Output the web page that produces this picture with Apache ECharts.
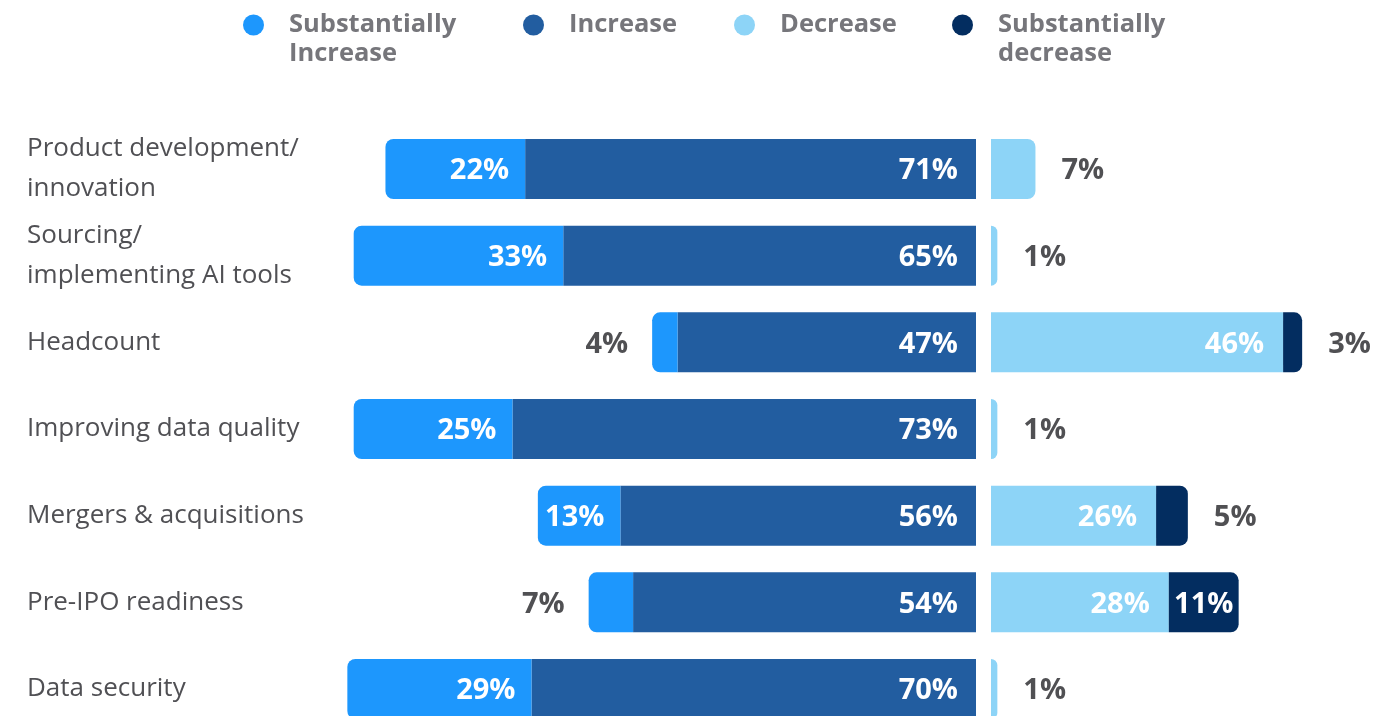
<!DOCTYPE html>
<html>
<head>
<meta charset="utf-8">
<script src="https://cdn.jsdelivr.net/npm/echarts@6/dist/echarts.min.js"></script>
<style>
  html, body { margin: 0; padding: 0; background: #ffffff; }
  #chart { width: 1400px; height: 716px; }
</style>
</head>
<body>
<div id="chart"></div>
<script>
// ---- data ----
const categories = [
  'Product development/\ninnovation',
  'Sourcing/\nimplementing AI tools',
  'Headcount',
  'Improving data quality',
  'Mergers & acquisitions',
  'Pre-IPO readiness',
  'Data security'
];
const subIncrease = [22, 33, 4, 25, 13, 7, 29];
const increase    = [71, 65, 47, 73, 56, 54, 70];
const decrease    = [7, 1, 46, 1, 26, 28, 1];
const subDecrease = [0, 0, 3, 0, 5, 11, 0];

const seriesNames = ['Substantially Increase', 'Increase', 'Decrease', 'Substantially decrease'];
const legendLines = [['Substantially', 'Increase'], ['Increase'], ['Decrease'], ['Substantially', 'decrease']];

// ---- styles ----
const COLORS = ['#1d97fd', '#225da0', '#8dd4f7', '#032d60'];
const FONT = '"Open Sans", "Noto Sans", sans-serif';
const LABEL_SIZE = 29;
const OUT_COLOR = '#505053';
const R = 8;
const SMALL = 10;
const PX_PER_UNIT = 6.35;

function insideLabel(pos, dist) {
  return { show: true, position: pos, distance: dist, color: '#ffffff', offset: [0, 2],
           fontFamily: FONT, fontWeight: 'bold', fontSize: LABEL_SIZE, formatter: '{c}%' };
}
function outsideLabel(pos, dist) {
  return { show: true, position: pos, distance: dist, color: OUT_COLOR, offset: [0, 2],
           fontFamily: FONT, fontWeight: 'bold', fontSize: LABEL_SIZE, formatter: '{c}%' };
}

const subIncData = subIncrease.map(v => ({
  value: v,
  label: v < SMALL ? outsideLabel('left', 24) : insideLabel('insideRight', 16),
  itemStyle: { borderRadius: [R, 0, 0, R] }
}));
const incData = increase.map(v => ({
  value: v,
  label: insideLabel('insideRight', 18)
}));
const decData = decrease.map((v, i) => ({
  value: v,
  label: v < SMALL ? outsideLabel('right', 26) : insideLabel('insideRight', 19),
  itemStyle: { borderRadius: subDecrease[i] === 0 ? [0, R, R, 0] : 0 }
}));
const subDecData = subDecrease.map(v => ({
  value: v,
  label: v === 0 ? { show: false } : (v < SMALL ? outsideLabel('right', 26) : insideLabel('inside', 0)),
  itemStyle: { borderRadius: [0, R, R, 0] }
}));

// legends: one per item for exact placement
const legendPos = [243, 523, 734, 952];
const LH = 29;
const ICON = 21;
const ICON_Y = 25;
const legends = seriesNames.map((name, i) => {
  const lines = legendLines[i];
  // a leading blank line keeps the first text line level with the icon
  const text = lines.length > 1 ? ' \n' + lines.join('\n') : lines[0];
  const nLines = lines.length > 1 ? 3 : 1;
  const boxH = Math.max(ICON, nLines * LH);
  return {
    data: [name],
    left: legendPos[i],
    top: ICON_Y - boxH / 2,
    padding: 0,
    icon: 'circle',
    itemWidth: ICON,
    itemHeight: ICON,
    selectedMode: false,
    formatter: () => text,
    textStyle: {
      fontFamily: FONT, fontWeight: 'bold', fontSize: 25.5, color: '#76767b',
      lineHeight: LH,
      padding: [0, 0, 0, 20]
    }
  };
});

const RIGHT_MAX = 64;
const chart = echarts.init(document.getElementById('chart'));
chart.setOption({
  backgroundColor: '#ffffff',
  animation: false,
  color: COLORS,
  legend: legends,
  grid: [
    { left: 341, width: 100 * PX_PER_UNIT, top: 169, height: 520, containLabel: false },
    { left: 991, width: RIGHT_MAX * PX_PER_UNIT, top: 169, height: 520, containLabel: false }
  ],
  xAxis: [
    { gridIndex: 0, type: 'value', min: 0, max: 100, inverse: true, show: false },
    { gridIndex: 1, type: 'value', min: 0, max: RIGHT_MAX, show: false }
  ],
  yAxis: [
    { gridIndex: 0, type: 'category', data: categories, inverse: true, boundaryGap: false,
      axisLine: { show: false, onZero: false }, axisTick: { show: false }, splitLine: { show: false },
      axisLabel: { align: 'left', margin: 314, fontFamily: FONT, fontSize: 26, lineHeight: 40,
                   color: '#505054', padding: [4, 0, 0, 0] } },
    { gridIndex: 1, type: 'category', data: categories, inverse: true, boundaryGap: false,
      axisLine: { show: false, onZero: false }, axisTick: { show: false }, splitLine: { show: false },
      axisLabel: { show: false } }
  ],
  series: [
    { name: seriesNames[1], type: 'bar', stack: 'L', xAxisIndex: 0, yAxisIndex: 0, clip: false,
      barWidth: 60, data: incData, itemStyle: { color: COLORS[1] } },
    { name: seriesNames[0], type: 'bar', stack: 'L', xAxisIndex: 0, yAxisIndex: 0, clip: false,
      barWidth: 60, data: subIncData, itemStyle: { color: COLORS[0] } },
    { name: seriesNames[2], type: 'bar', stack: 'R', xAxisIndex: 1, yAxisIndex: 1, clip: false,
      barWidth: 60, data: decData, itemStyle: { color: COLORS[2] } },
    { name: seriesNames[3], type: 'bar', stack: 'R', xAxisIndex: 1, yAxisIndex: 1, clip: false,
      barWidth: 60, data: subDecData, itemStyle: { color: COLORS[3] } }
  ]
});
</script>
</body>
</html>
